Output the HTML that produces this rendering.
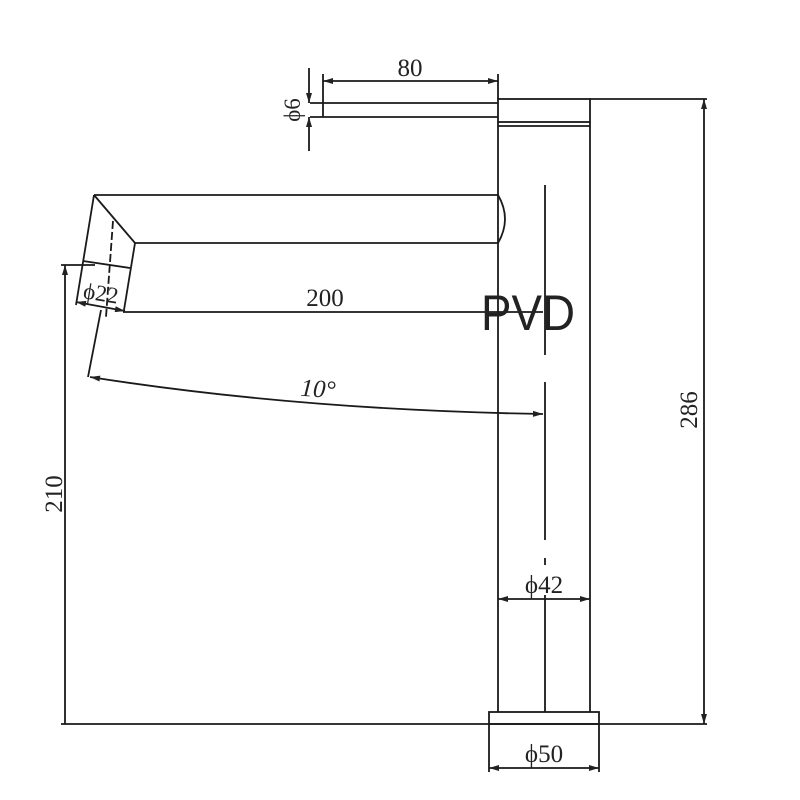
<!DOCTYPE html>
<html><head><meta charset="utf-8"><style>
html,body{margin:0;padding:0;background:#fff;}
svg{display:block}
text{font-family:"Liberation Serif",serif;fill:#222;}
</style></head><body>
<svg width="800" height="800" viewBox="0 0 800 800" xmlns="http://www.w3.org/2000/svg">
<defs>
<marker id="a" viewBox="0 0 10 6" refX="10" refY="3" markerWidth="14" markerHeight="6" markerUnits="userSpaceOnUse" orient="auto-start-reverse">
<path d="M0,0 L10,3 L0,6 z" fill="#222"/></marker>
</defs>
<g stroke="#1a1a1a" stroke-width="1.8" fill="none">
<rect x="498" y="99" width="92" height="23"/>
<line x1="498" y1="126" x2="590" y2="126"/>
<line x1="498" y1="122" x2="498" y2="712"/>
<line x1="590" y1="122" x2="590" y2="712"/>
<rect x="489" y="712" width="110" height="12"/>
<line x1="489" y1="724" x2="489" y2="772"/>
<line x1="599" y1="724" x2="599" y2="772"/>
<line x1="61" y1="724" x2="707" y2="724"/>
<line x1="590" y1="99" x2="707" y2="99"/>
<line x1="704" y1="99" x2="704" y2="724" marker-start="url(#a)" marker-end="url(#a)"/>
<line x1="545" y1="185" x2="545" y2="355"/>
<line x1="545" y1="382" x2="545" y2="540"/>
<line x1="545" y1="558" x2="545" y2="565"/>
<line x1="545" y1="595" x2="545" y2="712"/>
<line x1="498" y1="599" x2="590" y2="599" marker-start="url(#a)" marker-end="url(#a)"/>
<line x1="489" y1="768" x2="599" y2="768" marker-start="url(#a)" marker-end="url(#a)"/>
<line x1="310" y1="103" x2="498" y2="103"/>
<line x1="310" y1="117" x2="498" y2="117"/>
<line x1="323" y1="74" x2="323" y2="117"/>
<line x1="498" y1="74" x2="498" y2="99"/>
<line x1="323" y1="81" x2="498" y2="81" marker-start="url(#a)" marker-end="url(#a)"/>
<line x1="309" y1="68" x2="309" y2="103" marker-end="url(#a)"/>
<line x1="309" y1="151" x2="309" y2="117" marker-end="url(#a)"/>
<line x1="94" y1="195" x2="498" y2="195"/>
<line x1="135" y1="243" x2="498" y2="243"/>
<path d="M498,195 Q512,219 498,243"/>
<line x1="94" y1="195" x2="135" y2="243"/>
<line x1="94" y1="195" x2="76" y2="305"/>
<line x1="113" y1="221" x2="106" y2="317" stroke-dasharray="8,3"/>
<line x1="135" y1="243" x2="124" y2="310"/>
<line x1="61" y1="265" x2="95" y2="265"/>
<line x1="83" y1="261" x2="130" y2="268"/>
<line x1="76" y1="302" x2="125" y2="311" marker-start="url(#a)" marker-end="url(#a)"/>
<line x1="65" y1="724" x2="65" y2="265" marker-end="url(#a)"/>
<line x1="123" y1="312" x2="543" y2="312"/>
<line x1="101" y1="310" x2="88" y2="377"/>
<path d="M90,377 Q300,410 543,414" marker-start="url(#a)" marker-end="url(#a)"/>
</g>
<text x="410" y="76" font-size="25" text-anchor="middle">80</text>
<text x="325" y="306" font-size="25" text-anchor="middle">200</text>
<text x="318" y="397" font-size="25" text-anchor="middle" transform="rotate(4 318 390)" font-style="italic">10°</text>
<text x="544" y="593" font-size="25" text-anchor="middle">ϕ42</text>
<text x="544" y="762" font-size="25" text-anchor="middle">ϕ50</text>
<text x="101" y="301" font-size="23" text-anchor="middle" transform="rotate(9 101 293)">ϕ22</text>
<text transform="translate(300 110) rotate(-90)" font-size="23" text-anchor="middle">ϕ6</text>
<text transform="translate(62 494) rotate(-90)" font-size="25" text-anchor="middle">210</text>
<text transform="translate(697 410) rotate(-90)" font-size="25" text-anchor="middle">286</text>
<text x="528" y="330" font-size="50" text-anchor="middle" style="font-family:'Liberation Sans',sans-serif" textLength="94" lengthAdjust="spacingAndGlyphs">PVD</text>
</svg>
</body></html>
